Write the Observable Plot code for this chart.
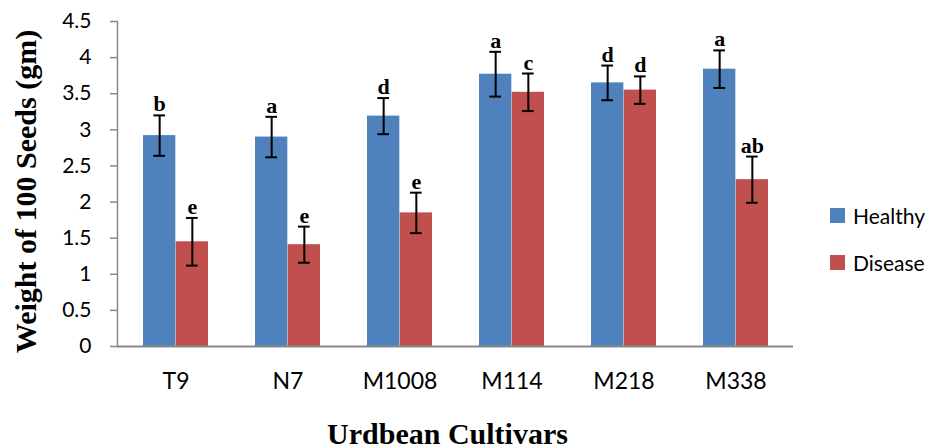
<!DOCTYPE html>
<html>
<head>
<meta charset="utf-8">
<script src="https://cdn.jsdelivr.net/npm/d3@7"></script>
<script src="https://cdn.jsdelivr.net/npm/@observablehq/plot@0.6"></script>
<style>
  html, body { margin: 0; padding: 0; background: #fff; }
  #wrap { position: relative; width: 936px; height: 448px; overflow: hidden; }
  .legend { position: absolute; left: 830px; font-family: Lato, "Open Sans", sans-serif; font-size: 21px; color: #000; }
  .legend .item { position: absolute; display: flex; align-items: center; white-space: nowrap; }
  .legend .sw { width: 15px; height: 15px; margin-right: 8px; display: inline-block; }
</style>
</head>
<body>
<div id="wrap"></div>
<script>
// ---- data ----
const cultivars = ["T9", "N7", "M1008", "M114", "M218", "M338"];
const seriesNames = ["Healthy", "Disease"];
const seriesColors = ["#4F81BD", "#C0504D"];
const healthy = [2.92, 2.90, 3.19, 3.77, 3.65, 3.84];
const disease = [1.45, 1.41, 1.85, 3.52, 3.55, 2.31];
const healthyErr = [0.28, 0.28, 0.25, 0.31, 0.24, 0.26];
const diseaseErr = [0.33, 0.25, 0.28, 0.26, 0.19, 0.32];
const healthyLetters = ["b", "a", "d", "a", "d", "a"];
const diseaseLetters = ["e", "e", "e", "c", "d", "ab"];
const yTicks = [0, 0.5, 1, 1.5, 2, 2.5, 3, 3.5, 4, 4.5];
const yTitle = "Weight of 100 Seeds (gm)";
const xTitle = "Urdbean Cultivars";

// ---- layout ----
const W = 936, H = 448;
const mL = 117, mR = 143, mT = 21, mB = 102;
const padInner = 0.42, padOuter = 0.21;
const step = (W - mL - mR) / (cultivars.length - padInner + 2 * padOuter);
const bw = step * (1 - padInner);
const half = bw / 2;
const off = half / 2;
const capW = 12;

const healthyRows = cultivars.map((c, i) => ({cultivar: c, series: seriesNames[0], value: healthy[i], err: healthyErr[i], letter: healthyLetters[i]}));
const diseaseRows = cultivars.map((c, i) => ({cultivar: c, series: seriesNames[1], value: disease[i], err: diseaseErr[i], letter: diseaseLetters[i]}));

const axisGray = "#878787";
const serif = "'Liberation Serif', 'Times New Roman', serif";

function errMarks(rows, dx) {
  return [
    Plot.ruleX(rows, {x: "cultivar", y1: d => d.value - d.err, y2: d => d.value + d.err, dx, stroke: "#000", strokeWidth: 2}),
    Plot.tickY(rows, {x: "cultivar", y: d => d.value + d.err, dx, insetLeft: (bw - capW) / 2, insetRight: (bw - capW) / 2, stroke: "#000", strokeWidth: 2}),
    Plot.tickY(rows, {x: "cultivar", y: d => d.value - d.err, dx, insetLeft: (bw - capW) / 2, insetRight: (bw - capW) / 2, stroke: "#000", strokeWidth: 2}),
    Plot.text(rows, {x: "cultivar", y: d => d.value + d.err, text: "letter", dx, dy: -4, lineAnchor: "bottom", fontFamily: serif, fontWeight: "bold", fontSize: 22, fill: "#000"})
  ];
}

const chart = Plot.plot({
  width: W, height: H,
  marginLeft: mL, marginRight: mR, marginTop: mT, marginBottom: mB,
  style: {fontFamily: "Lato, 'Open Sans', sans-serif", background: "#fff", color: "#000"},
  x: {domain: cultivars, paddingInner: padInner, paddingOuter: padOuter, align: 0.5, label: null},
  y: {domain: [0, 4.5], label: null},
  color: {domain: seriesNames, range: seriesColors},
  marks: [
    Plot.barY(healthyRows, {x: "cultivar", y: "value", fill: "series", insetRight: half}),
    Plot.barY(diseaseRows, {x: "cultivar", y: "value", fill: "series", insetLeft: half}),
    Plot.frame({anchor: "left", stroke: axisGray, strokeWidth: 1.5}),
    Plot.axisY({ticks: yTicks, tickFormat: d3.format("~g"), tickSize: 7, tickPadding: 19, fontSize: 21, stroke: axisGray, strokeWidth: 1.5, fill: "#000", label: null}),
    Plot.ruleY([0], {stroke: axisGray, strokeWidth: 2}),
    Plot.axisX({tickSize: 0, tickPadding: 26, fontSize: 23, fill: "#000", label: null}),
    ...errMarks(healthyRows, -off),
    ...errMarks(diseaseRows, off),
    Plot.text([yTitle], {frameAnchor: "left", text: d => d, rotate: -90, textAnchor: "middle", dx: -91.6, dy: 7.5, lineAnchor: "middle", fontFamily: serif, fontWeight: "bold", fontSize: 30, fill: "#000"}),
    Plot.text([xTitle], {frameAnchor: "bottom", text: d => d, textAnchor: "middle", dx: -8, dy: 87.4, lineAnchor: "middle", fontFamily: serif, fontWeight: "bold", fontSize: 30, fill: "#000"})
  ]
});

const wrap = document.getElementById("wrap");
wrap.appendChild(chart);

// legend
const legend = document.createElement("div");
legend.className = "legend";
const legendTops = [203, 250];
seriesNames.forEach((name, i) => {
  const item = document.createElement("div");
  item.className = "item";
  item.style.top = legendTops[i] + "px";
  const sw = document.createElement("span");
  sw.className = "sw";
  sw.style.background = seriesColors[i];
  item.appendChild(sw);
  item.appendChild(document.createTextNode(name));
  legend.appendChild(item);
});
legend.style.top = "0px";
wrap.appendChild(legend);
</script>
</body>
</html>
